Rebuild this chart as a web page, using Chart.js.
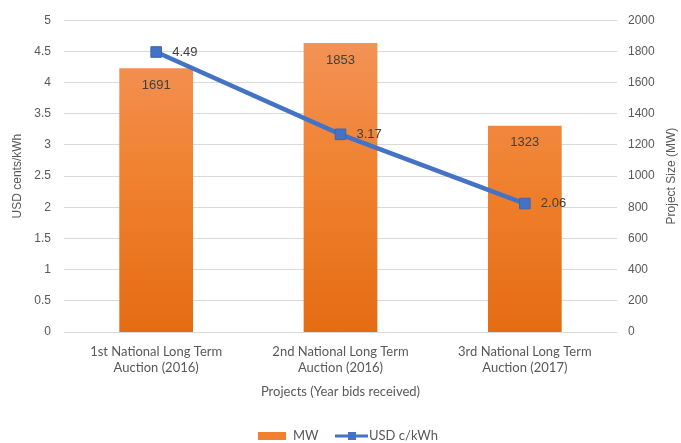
<!DOCTYPE html>
<html>
<head>
<meta charset="utf-8">
<script src="https://cdn.jsdelivr.net/npm/chart.js@4.4.1/dist/chart.umd.min.js"></script>
<style>
  html, body { margin: 0; padding: 0; background: #fff; }
  #wrap { width: 681px; height: 443px; }
</style>
</head>
<body>
<div id="wrap"><canvas id="chart" width="681" height="443"></canvas></div>
<script>
// Auction rounds on the x axis
const auctions = [
  ["1st National Long Term", "Auction (2016)"],
  ["2nd National Long Term", "Auction (2016)"],
  ["3rd National Long Term", "Auction (2017)"],
];
// Project size per auction (MW, right axis)
const projectMW = [1691, 1853, 1323];
// Average price per auction (USD cents/kWh, left axis)
const priceUsd = [4.49, 3.17, 2.06];

const textGray = "#595959";
const lineBlue = "#4472C4";
const arialFont = "'Liberation Sans', Arial, sans-serif";

// Orange fill that fades slightly from top to bottom of the plot
function barFill(context) {
  const area = context.chart.chartArea;
  if (!area) return "#ED7D31";
  const g = context.chart.ctx.createLinearGradient(0, area.top, 0, area.bottom);
  g.addColorStop(0, "#F3955D");
  g.addColorStop(0.5, "#F0812F");
  g.addColorStop(1, "#E46C13");
  return g;
}

// Value labels: MW inside the top of each bar, price to the right of each marker
const valueLabels = {
  id: "valueLabels",
  afterDatasetsDraw(chart) {
    const ctx = chart.ctx;
    ctx.save();
    ctx.fillStyle = "#404040";
    ctx.font = "13px " + arialFont;
    ctx.textBaseline = "middle";

    const bars = chart.getDatasetMeta(1);
    ctx.textAlign = "center";
    bars.data.forEach((el, i) => {
      ctx.fillText(String(projectMW[i]), el.x, el.y + 17);
    });

    const pts = chart.getDatasetMeta(0);
    ctx.textAlign = "left";
    pts.data.forEach((el, i) => {
      ctx.fillText(priceUsd[i].toFixed(2), el.x + 16, el.y);
    });
    ctx.restore();
  },
};

// Right axis title, reading bottom to top like the left one
const rightTitle = {
  id: "rightTitle",
  afterDraw(chart) {
    const ctx = chart.ctx;
    const area = chart.chartArea;
    ctx.save();
    ctx.translate(672, (area.top + area.bottom) / 2);
    ctx.rotate(-Math.PI / 2);
    ctx.fillStyle = textGray;
    ctx.font = "12px " + arialFont;
    ctx.textAlign = "center";
    ctx.textBaseline = "middle";
    ctx.fillText("Project Size (MW)", 0, 0);
    ctx.restore();
  },
};

// Legend at the bottom: orange swatch for MW, line with square marker for price
const bottomLegend = {
  id: "bottomLegend",
  afterDraw(chart) {
    const ctx = chart.ctx;
    const y = 436;
    ctx.save();
    ctx.fillStyle = "#F0812F";
    ctx.fillRect(258, y - 4, 28, 8);

    ctx.strokeStyle = lineBlue;
    ctx.lineWidth = 3;
    ctx.beginPath();
    ctx.moveTo(335, y);
    ctx.lineTo(368, y);
    ctx.stroke();
    ctx.fillStyle = lineBlue;
    ctx.fillRect(348, y - 4, 8, 8);

    ctx.fillStyle = textGray;
    ctx.font = "13px Lato, 'Open Sans', sans-serif";
    ctx.textBaseline = "middle";
    ctx.textAlign = "left";
    ctx.fillText("MW", 293, y);
    ctx.fillText("USD c/kWh", 369, y);
    ctx.restore();
  },
};

const ctx = document.getElementById("chart").getContext("2d");

new Chart(ctx, {
  data: {
    labels: auctions,
    datasets: [
      {
        type: "line",
        label: "USD c/kWh",
        data: priceUsd,
        yAxisID: "yPrice",
        borderColor: lineBlue,
        backgroundColor: lineBlue,
        borderWidth: 4.5,
        pointStyle: "rect",
        pointRadius: 7.5,
        pointBorderColor: "#3A66B5",
        pointBorderWidth: 1,
        tension: 0,
        order: 0,
      },
      {
        type: "bar",
        label: "MW",
        data: projectMW,
        yAxisID: "yMW",
        backgroundColor: barFill,
        borderWidth: 0,
        barPercentage: 0.4,
        categoryPercentage: 1,
        order: 1,
      },
    ],
  },
  options: {
    responsive: false,
    animation: false,
    layout: { padding: { top: 16, bottom: 28, left: 0, right: 0 } },
    plugins: {
      legend: { display: false },
      tooltip: { enabled: false },
    },
    scales: {
      x: {
        offset: true,
        grid: { display: false, drawTicks: false },
        border: { display: false },
        ticks: {
          color: textGray,
          font: { family: "Lato, 'Open Sans', sans-serif", size: 13 },
          padding: 12,
          maxRotation: 0,
        },
        title: {
          display: true,
          text: "Projects (Year bids received)",
          color: textGray,
          font: { family: "Lato, 'Open Sans', sans-serif", size: 13 },
          padding: { top: 0, bottom: 15 },
        },
        afterFit(scale) {
          scale.height = 83;
        },
      },
      yPrice: {
        position: "left",
        min: 0,
        max: 5,
        ticks: {
          stepSize: 0.5,
          color: textGray,
          font: { family: arialFont, size: 12 },
          padding: 13,
          callback: (v) => String(v),
        },
        grid: { color: "#D9D9D9", lineWidth: 1, drawTicks: false },
        border: { display: false },
        title: {
          display: true,
          text: "USD cents/kWh",
          color: textGray,
          font: { family: arialFont, size: 12 },
          padding: { top: 10, bottom: 0 },
        },
        afterFit(scale) {
          scale.width = 64;
        },
      },
      yMW: {
        position: "right",
        min: 0,
        max: 2000,
        ticks: {
          stepSize: 200,
          color: textGray,
          font: { family: arialFont, size: 12 },
          padding: 11,
          callback: (v) => String(v),
        },
        grid: { display: false, drawTicks: false },
        border: { display: false },
        afterFit(scale) {
          scale.width = 64;
        },
      },
    },
  },
  plugins: [valueLabels, rightTitle, bottomLegend],
});
</script>
</body>
</html>
